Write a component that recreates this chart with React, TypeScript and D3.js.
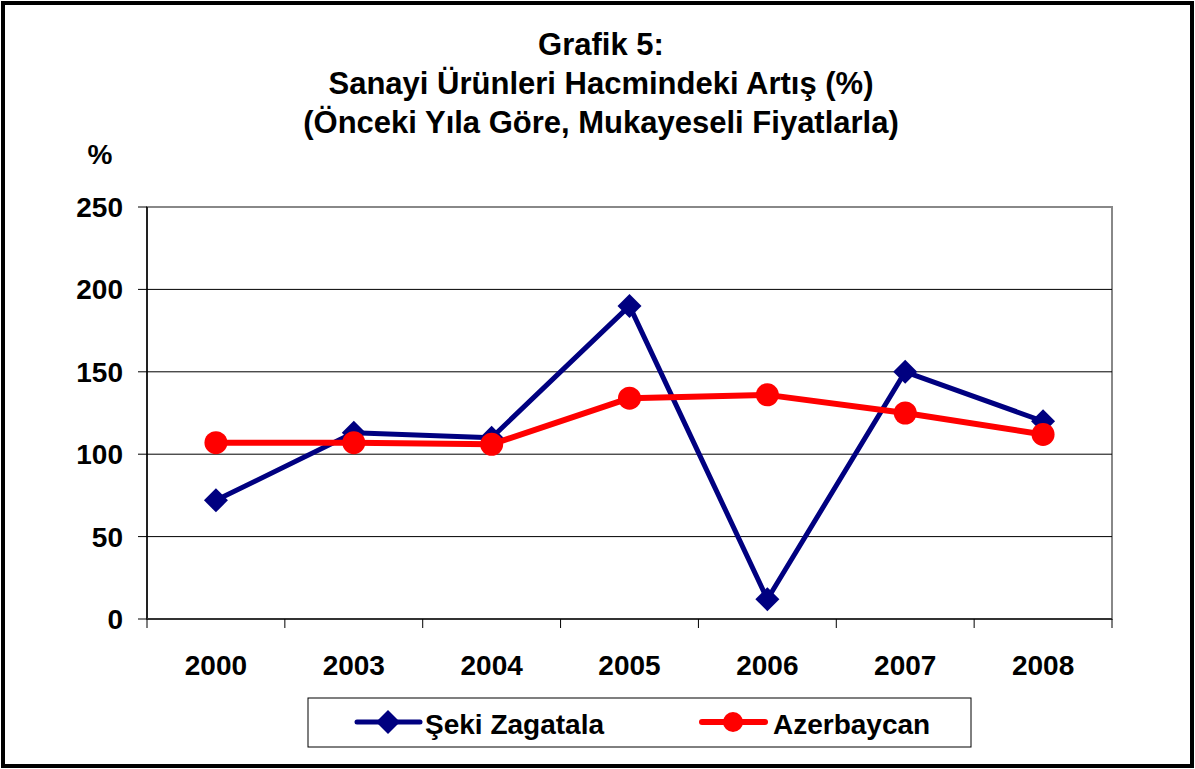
import { scaleBand, scaleLinear, line } from "d3";

const years = ["2000", "2003", "2004", "2005", "2006", "2007", "2008"];
const sekiValues = [72, 113, 110, 190, 12, 150, 120];
const azerValues = [107, 107, 106, 134, 136, 125, 112];
const yTicks = [0, 50, 100, 150, 200, 250];
const titleLines = [
  "Grafik 5:",
  "Sanayi Ürünleri Hacmindeki Artış (%)",
  "(Önceki Yıla Göre, Mukayeseli Fiyatlarla)",
];

const W = 1195;
const H = 769;
const plot = { left: 147, right: 1112, top: 207, bottom: 619 };
const font = "'Liberation Sans', Arial, sans-serif";
const BLUE = "#000080";
const RED = "#ff0000";

function Diamond({ x, y }: { x: number; y: number }) {
  return (
    <path
      d={`M${x},${y - 12} L${x + 12},${y} L${x},${y + 12} L${x - 12},${y} Z`}
      fill={BLUE}
    />
  );
}

export default function App() {
  const x = scaleBand<string>()
    .domain(years)
    .range([plot.left, plot.right]);
  const y = scaleLinear().domain([0, 250]).range([plot.bottom, plot.top]);
  const cx = (d: string) => (x(d) ?? 0) + x.bandwidth() / 2;

  const mk = (vals: number[]) =>
    line<number>()
      .x((_, i) => cx(years[i]))
      .y((v) => y(v))(vals) ?? "";

  const boundaries = years.map((d) => x(d) ?? 0).concat([plot.right]);

  return (
    <div style={{ position: "absolute", left: 0, top: 0 }}>
      <svg width={W} height={H} style={{ display: "block", fontFamily: font }}>
        <rect x={0} y={0} width={W} height={H} fill="#fff" />
        <rect x={3} y={3} width={W - 6} height={H - 6} fill="none" stroke="#000" strokeWidth={4} />

        {titleLines.map((t, i) => (
          <text
            key={i}
            x={601}
            y={55 + i * 39}
            textAnchor="middle"
            fontSize={31}
            fontWeight="bold"
          >
            {t}
          </text>
        ))}
        <text x={100} y={164} textAnchor="middle" fontSize={28} fontWeight="bold">
          %
        </text>

        {/* plot frame */}
        <rect
          x={plot.left}
          y={plot.top}
          width={plot.right - plot.left}
          height={plot.bottom - plot.top}
          fill="none"
          stroke="#888"
          strokeWidth={2}
        />
        {yTicks.map((t) => (
          <g key={t}>
            {t > 0 && t < 250 && (
              <line x1={plot.left} x2={plot.right} y1={y(t)} y2={y(t)} stroke="#000" strokeWidth={1} />
            )}
            <line x1={plot.left - 9} x2={plot.left} y1={y(t)} y2={y(t)} stroke="#000" strokeWidth={1} />
            <text
              x={123}
              y={y(t) + 10}
              textAnchor="end"
              fontSize={28}
              fontWeight="bold"
            >
              {t}
            </text>
          </g>
        ))}
        <line x1={plot.left} x2={plot.left} y1={plot.top} y2={plot.bottom} stroke="#000" strokeWidth={1.5} />
        <line x1={plot.left} x2={plot.right} y1={plot.bottom} y2={plot.bottom} stroke="#333" strokeWidth={2} />
        {boundaries.map((b, i) => (
          <line key={i} x1={b} x2={b} y1={plot.bottom} y2={plot.bottom + 9} stroke="#000" strokeWidth={1} />
        ))}
        {years.map((d) => (
          <text key={d} x={cx(d)} y={675} textAnchor="middle" fontSize={28} fontWeight="bold">
            {d}
          </text>
        ))}

        {/* series */}
        <path d={mk(sekiValues)} fill="none" stroke={BLUE} strokeWidth={5} strokeLinejoin="round" />
        {sekiValues.map((v, i) => (
          <Diamond key={i} x={cx(years[i])} y={y(v)} />
        ))}
        <path d={mk(azerValues)} fill="none" stroke={RED} strokeWidth={6} strokeLinejoin="round" />
        {azerValues.map((v, i) => (
          <circle key={i} cx={cx(years[i])} cy={y(v)} r={11.5} fill={RED} />
        ))}

        {/* legend */}
        <rect x={308} y={698} width={663} height={49} fill="#fff" stroke="#000" strokeWidth={1} />
        <line x1={357} x2={420} y1={722} y2={722} stroke={BLUE} strokeWidth={5} strokeLinecap="round" />
        <Diamond x={388} y={722} />
        <text x={425} y={734} fontSize={28} fontWeight="bold">
          Şeki Zagatala
        </text>
        <line x1={702} x2={765} y1={722} y2={722} stroke={RED} strokeWidth={6} strokeLinecap="round" />
        <circle cx={733} cy={722} r={10} fill={RED} />
        <text x={773} y={734} fontSize={28} fontWeight="bold">
          Azerbaycan
        </text>
      </svg>
    </div>
  );
}
